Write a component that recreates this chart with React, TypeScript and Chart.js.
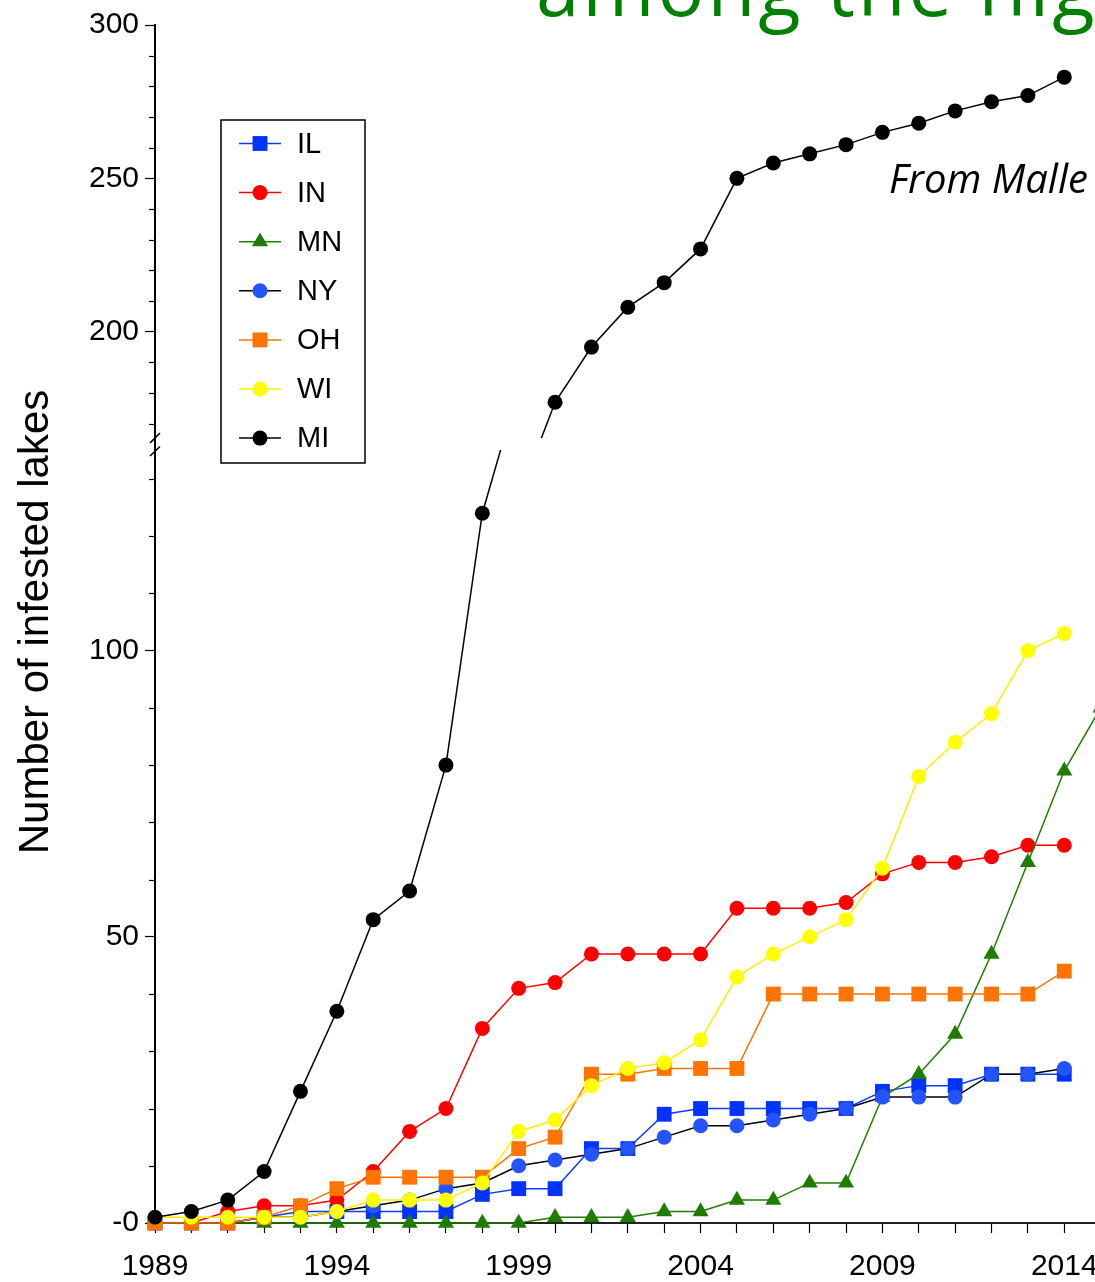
import React, { useEffect, useRef } from 'react';
import { Chart, registerables } from 'chart.js';

Chart.register(...registerables);

// ---------- data ----------
const years = [1989, 1990, 1991, 1992, 1993, 1994, 1995, 1996, 1997, 1998, 1999, 2000, 2001, 2002, 2003, 2004, 2005, 2006, 2007, 2008, 2009, 2010, 2011, 2012, 2013, 2014, 2015];

const IL = [0, 0, 0, 1, 2, 2, 2, 2, 2, 5, 6, 6, 13, 13, 19, 20, 20, 20, 20, 20, 23, 24, 24, 26, 26, 26, null];
const IN = [0, 0, 2, 3, 3, 4, 9, 16, 20, 34, 41, 42, 47, 47, 47, 47, 55, 55, 55, 56, 61, 63, 63, 64, 66, 66, null];
const MN = [0, 0, 0, 0, 0, 0, 0, 0, 0, 0, 0, 1, 1, 1, 2, 2, 4, 4, 7, 7, 22, 26, 33, 47, 63, 79, 90];
const NY = [0, 0, 0, 1, 1, 2, 3, 4, 6, 7, 10, 11, 12, 13, 15, 17, 17, 18, 19, 20, 22, 22, 22, 26, 26, 27, null];
const OH = [0, 0, 0, 1, 3, 6, 8, 8, 8, 8, 13, 15, 26, 26, 27, 27, 27, 40, 40, 40, 40, 40, 40, 40, 40, 44, null];
const WI = [1, 1, 1, 1, 1, 2, 4, 4, 4, 7, 16, 18, 24, 27, 28, 32, 43, 47, 50, 53, 62, 78, 84, 89, 100, 103, null];
const MI = [1, 2, 4, 9, 23, 37, 53, 58, 80, 124, 146, 177, 195, 208, 216, 227, 250, 255, 258, 261, 265, 268, 272, 275, 277, 283, null];

const xTickValues = [1989, 1990, 1991, 1992, 1993, 1994, 1995, 1996, 1997, 1998, 1999, 2000, 2001, 2002, 2003, 2004, 2005, 2006, 2007, 2008, 2009, 2010, 2011, 2012, 2013, 2014, 2015, 2016];
const xLabelYears = [1989, 1994, 1999, 2004, 2009, 2014];
const yLowTicks = [0, 10, 20, 30, 40, 50, 60, 70, 80, 90, 100, 110, 120, 130];
const yHighTicks = [170, 180, 190, 200, 210, 220, 230, 240, 250, 260, 270, 280, 290, 300];
const yLabelValues = [0, 50, 100, 200, 250, 300];
const legendNames = ['IL', 'IN', 'MN', 'NY', 'OH', 'WI', 'MI'];

const yAxisTitle = 'Number of infested lakes';
const slideTitle = 'among the hig';
const sourceNote = 'From Malle';

// ---------- styles ----------
const FONT = '"Liberation Sans", Arial, Helvetica, sans-serif';
const STYLE: Record<string, { line: string; point: string; shape: string; r: number; order: number }> = {
  IL: { line: '#0a3cff', point: '#0033ff', shape: 'rect', r: 10.5, order: 6 },
  IN: { line: '#ff0000', point: '#ff0000', shape: 'circle', r: 7.5, order: 5 },
  MN: { line: '#1e7d00', point: '#1e7d00', shape: 'triangle', r: 9.3, order: 4 },
  NY: { line: '#000000', point: '#2454ff', shape: 'circle', r: 7.5, order: 3 },
  OH: { line: '#ff7300', point: '#ff7300', shape: 'rect', r: 10.5, order: 2 },
  WI: { line: '#ffee00', point: '#ffff00', shape: 'circle', r: 7.5, order: 1 },
  MI: { line: '#000000', point: '#000000', shape: 'circle', r: 7.5, order: 0 },
};

const seriesValues: Record<string, (number | null)[]> = { IL, IN, MN, NY, OH, WI, MI };

function makeDataset(name: string, axis: string, seg?: string) {
  const st = STYLE[name];
  const vals = seriesValues[name];
  return {
    label: name,
    data: years.map((x, i) => ({ x, y: vals[i] })).filter((p) => p.y !== null),
    yAxisID: axis,
    borderColor: st.line,
    backgroundColor: st.point,
    pointBackgroundColor: st.point,
    pointBorderColor: st.point,
    pointBorderWidth: 0,
    pointStyle: st.shape,
    pointRadius: st.r,
    pointHoverRadius: st.r,
    borderWidth: 1.5,
    tension: 0,
    clip: false,
    order: st.order,
    seg,
  };
}

function drawMarker(ctx: CanvasRenderingContext2D, shape: string, x: number, y: number, r: number, color: string) {
  ctx.fillStyle = color;
  ctx.beginPath();
  if (shape === 'circle') {
    ctx.arc(x, y, r, 0, Math.PI * 2);
  } else if (shape === 'rect') {
    const s = Math.SQRT1_2 * r;
    ctx.rect(x - s, y - s, 2 * s, 2 * s);
  } else {
    let rad = 0;
    ctx.moveTo(x + Math.sin(rad) * r, y - Math.cos(rad) * r);
    rad += (2 * Math.PI) / 3;
    ctx.lineTo(x + Math.sin(rad) * r, y - Math.cos(rad) * r);
    rad += (2 * Math.PI) / 3;
    ctx.lineTo(x + Math.sin(rad) * r, y - Math.cos(rad) * r);
    ctx.closePath();
  }
  ctx.fill();
}

const decorPlugin = {
  id: 'decor',
  beforeDatasetDraw(chart: any, args: any) {
    const ds = chart.data.datasets[args.index];
    if (!ds.seg) return;
    const { yTop, yBot } = chart.scales;
    const ctx = chart.ctx;
    ctx.save();
    ctx.beginPath();
    if (ds.seg === 'top') ctx.rect(0, 0, chart.width, yTop.bottom - 6);
    else ctx.rect(0, yBot.top + 6, chart.width, chart.height - yBot.top - 6);
    ctx.clip();
  },
  afterDatasetDraw(chart: any, args: any) {
    const ds = chart.data.datasets[args.index];
    if (!ds.seg) return;
    chart.ctx.restore();
  },
  afterDraw(chart: any) {
    const ctx: any = chart.ctx;
    const { yTop, yBot } = chart.scales;
    const left = chart.chartArea.left;
    ctx.save();

    // minor ticks
    ctx.strokeStyle = '#000';
    ctx.lineWidth = 1.2;
    const minor = (scale: any, vals: number[]) => {
      vals.forEach((v) => {
        if (yLabelValues.includes(v)) return;
        const py = Math.round(scale.getPixelForValue(v)) + 0.5;
        ctx.beginPath();
        ctx.moveTo(left - 6, py);
        ctx.lineTo(left, py);
        ctx.stroke();
      });
    };
    minor(yTop, yHighTicks);
    minor(yBot, yLowTicks);

    // axis break marks
    const b = yTop.bottom;
    ctx.lineWidth = 1.6;
    ctx.beginPath();
    ctx.moveTo(left + 5, b - 11);
    ctx.lineTo(left - 5, b - 1);
    ctx.moveTo(left + 5, b + 2.5);
    ctx.lineTo(left - 5, b + 12);
    ctx.stroke();

    // legend
    const bx = 221, by = 120, bw = 144, bh = 343;
    ctx.fillStyle = '#fff';
    ctx.fillRect(bx, by, bw, bh);
    ctx.strokeStyle = '#000';
    ctx.lineWidth = 1.5;
    ctx.strokeRect(bx, by, bw, bh);
    legendNames.forEach((name, i) => {
      const st = STYLE[name];
      const ry = 143.5 + i * 49.1;
      ctx.strokeStyle = st.line;
      ctx.lineWidth = 1.5;
      ctx.beginPath();
      ctx.moveTo(239, ry);
      ctx.lineTo(281, ry);
      ctx.stroke();
      drawMarker(ctx, st.shape, 260, ry, st.r, st.point);
      ctx.fillStyle = '#000';
      ctx.font = `29px ${FONT}`;
      ctx.textAlign = 'left';
      ctx.textBaseline = 'middle';
      ctx.fillText(name, 297, ry + 1);
    });

    // y axis title
    ctx.save();
    ctx.translate(48, 622);
    ctx.rotate(-Math.PI / 2);
    ctx.fillStyle = '#000';
    ctx.font = `42px ${FONT}`;
    ctx.textAlign = 'center';
    ctx.textBaseline = 'alphabetic';
    ctx.fillText(yAxisTitle, 0, 0);
    ctx.restore();

    // slide text
    ctx.save();
    ctx.fillStyle = '#008000';
    ctx.font = '78px "Open Sans", sans-serif';
    ctx.textAlign = 'left';
    ctx.textBaseline = 'alphabetic';
    try {
      ctx.letterSpacing = '3px';
    } catch (e) {}
    ctx.fillText(slideTitle, 536, 16);
    ctx.restore();

    ctx.fillStyle = '#000';
    ctx.font = 'italic 40px "Open Sans", sans-serif';
    ctx.textAlign = 'left';
    ctx.textBaseline = 'alphabetic';
    ctx.fillText(sourceNote, 889, 193);

    ctx.restore();
  },
};

const yTickCallback = (v: any) => (yLabelValues.includes(Number(v)) ? (Number(v) === 0 ? '-0' : String(v)) : '');
const yTickColor = (c: any) => (c.tick && yLabelValues.includes(c.tick.value) ? '#000' : 'rgba(0,0,0,0)');

function yScale(min: number, max: number, weight: number, ticks: number[]) {
  return {
    type: 'linear',
    position: 'left',
    stack: 'yStack',
    stackWeight: weight,
    min,
    max,
    afterFit: (s: any) => {
      s.width = 155;
    },
    afterBuildTicks: (s: any) => {
      s.ticks = ticks.map((value) => ({ value }));
    },
    ticks: {
      autoSkip: false,
      color: '#000',
      padding: 6,
      font: { family: FONT, size: 30 },
      callback: yTickCallback,
    },
    grid: {
      display: true,
      drawOnChartArea: false,
      drawTicks: true,
      tickLength: 10,
      tickWidth: 1.2,
      tickColor: yTickColor,
    },
    border: { display: true, color: '#000', width: 2 },
  };
}

export default function App() {
  const ref = useRef<HTMLCanvasElement | null>(null);

  useEffect(() => {
    if (!ref.current) return;
    const datasets: any[] = [
      makeDataset('IL', 'yBot'),
      makeDataset('IN', 'yBot'),
      makeDataset('MN', 'yBot'),
      makeDataset('NY', 'yBot'),
      makeDataset('OH', 'yBot'),
      makeDataset('WI', 'yBot'),
      makeDataset('MI', 'yBot', 'bot'),
      makeDataset('MI', 'yTop', 'top'),
    ];
    const chart = new Chart(ref.current, {
      type: 'line',
      data: { datasets },
      options: {
        animation: false,
        responsive: false,
        devicePixelRatio: 1,
        events: [],
        layout: { padding: { top: 25, right: 63, bottom: 0, left: 0 } },
        plugins: { legend: { display: false }, tooltip: { enabled: false }, title: { display: false } },
        scales: {
          x: {
            type: 'linear',
            min: 1989,
            max: 2016,
            afterFit: (s: any) => {
              s.height = 59;
            },
            afterBuildTicks: (s: any) => {
              s.ticks = xTickValues.map((value) => ({ value }));
            },
            ticks: {
              autoSkip: false,
              maxRotation: 0,
              minRotation: 0,
              padding: 19,
              color: '#000',
              font: { family: FONT, size: 30, lineHeight: 1 },
              callback: (v: any) => (xLabelYears.includes(Number(v)) ? String(v) : ''),
            },
            grid: {
              display: true,
              drawOnChartArea: false,
              drawTicks: true,
              tickLength: 10,
              tickWidth: 1.2,
              tickColor: '#000',
            },
            border: { display: true, color: '#222', width: 2 },
          },
          yBot: yScale(0, 136.1, 779, yLowTicks),
          yTop: yScale(163.4, 300, 419, yHighTicks),
        } as any,
      },
      plugins: [decorPlugin as any],
    });
    if ((document as any).fonts && (document as any).fonts.ready) {
      (document as any).fonts.ready.then(() => {
        try {
          chart.draw();
        } catch (e) {}
      });
    }
    return () => chart.destroy();
  }, []);

  return (
    <div
      style={{
        position: 'fixed',
        left: 0,
        top: 0,
        width: 1095,
        height: 1282,
        overflow: 'hidden',
        background: '#fff',
      }}
    >
      <canvas ref={ref} width={1200} height={1282} style={{ display: 'block', width: 1200, height: 1282 }} />
    </div>
  );
}
